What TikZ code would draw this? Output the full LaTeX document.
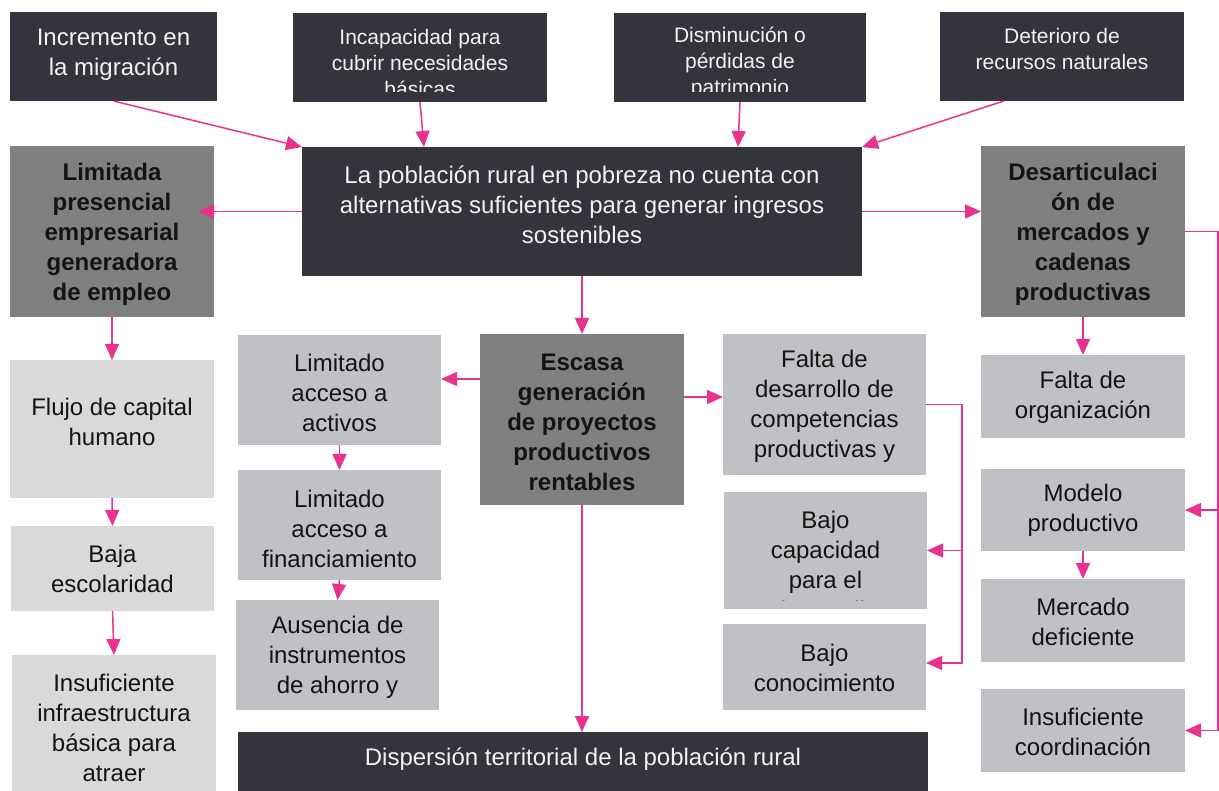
\documentclass[tikz,border=0pt]{standalone}
\usepackage{fontspec}
\setmainfont{Liberation Sans}
\usetikzlibrary{arrows.meta,calc}
\definecolor{dk}{RGB}{52,52,60}
\definecolor{mg}{RGB}{128,128,128}
\definecolor{lg}{RGB}{192,193,197}
\definecolor{xg}{RGB}{217,217,217}
\definecolor{pk}{RGB}{232,50,140}
\definecolor{wtx}{RGB}{242,242,242}
\definecolor{btx}{RGB}{20,20,20}
\newcommand{\bx}[9]{%
  \node[bxs,#2,minimum width={#6-#4},minimum height={#7-#5}] (#1) at ({(#4+#6)/2},{(#5+#7)/2}) {};
  \node[#3] (#1-t) at ({(#4+#6)/2},#8) {#9};
}
\tikzset{
  bxs/.style={rectangle,draw=none,inner sep=0pt,outer sep=0pt},
  txt/.style={align=center,inner sep=0pt,yshift=-2.5pt,font=\fontsize{24}{30}\selectfont},
  wt/.style={txt,text=wtx},
  wts/.style={align=center,inner sep=0pt,text=wtx,font=\fontsize{21}{26}\selectfont},
  bt/.style={txt,text=btx},
  bbt/.style={txt,text=btx,font=\fontsize{24}{30}\selectfont\bfseries},
  arr/.style={draw=pk,line width=1.5pt,-{Triangle[length=16pt,width=14pt]}},
  ln/.style={draw=pk,line width=1.5pt}
}
\begin{document}
\begin{tikzpicture}[x=1pt,y=-1pt]
\useasboundingbox[fill=white] (0,0) rectangle (1219,791);
% top row
\bx{inc}{fill=dk}{wt}{10}{12}{217}{101}{52}{Incremento en\\la migración}
\node[bxs,fill=dk,minimum width=254,minimum height=89] (incap) at (420,57.5) {};
\begin{scope}
\clip (293,13) rectangle (547,92);
\node[wts] (incap-t) at (420,63) {Incapacidad para\\cubrir necesidades\\básicas};
\end{scope}
\node[bxs,fill=dk,minimum width=252,minimum height=89] (dism) at (740,57.5) {};
\begin{scope}
\clip (614,13) rectangle (866,92);
\node[wts] (dism-t) at (740,63) {Disminución o\\pérdidas de\\patrimonio};
\end{scope}
\bx{det}{fill=dk}{wts}{940}{12}{1184}{101}{49}{Deterioro de\\recursos naturales}
% central
\bx{cen}{fill=dk}{wt}{302}{147}{862}{276}{202}{La población rural en pobreza no cuenta con\\alternativas suficientes para generar ingresos\\sostenibles}
\bx{lim}{fill=mg}{bbt}{10}{146}{214}{317}{232}{Limitada\\presencial\\empresarial\\generadora\\de empleo}
\bx{des}{fill=mg}{bbt}{981}{146}{1185}{317}{232}{Desarticulaci\\ón de\\mercados y\\cadenas\\productivas}
\bx{esc}{fill=mg}{bbt}{480}{334}{684}{505}{419.5}{Escasa\\generación\\de proyectos\\productivos\\rentables}
% middle-left column
\bx{act}{fill=lg}{bt}{238}{335}{441}{445}{390}{Limitado\\acceso a\\activos}
\bx{fin}{fill=lg}{bt}{238}{470}{441}{580}{526}{Limitado\\acceso a\\financiamiento}
\bx{aus}{fill=lg}{bt}{236}{600}{439}{710}{655}{Ausencia de\\instrumentos\\de ahorro y}
% middle-right column
\bx{fd}{fill=lg}{bt}{723}{334}{926}{475}{404}{Falta de\\desarrollo de\\competencias\\productivas y}
\node[bxs,fill=lg,minimum width=203,minimum height=117] (bcap) at (825.5,550.5) {};
\begin{scope}
\clip (724,492) rectangle (927,600);
\node[bt] (bcap-t) at (825.5,562.5) {Bajo\\capacidad\\para el\\desarrollo};
\end{scope}
\bx{bkn}{fill=lg}{bt}{723}{624}{926}{710}{665}{Bajo\\conocimiento}
% right column
\bx{org}{fill=lg}{bt}{981}{355}{1185}{438}{395}{Falta de\\organización}
\bx{mod}{fill=lg}{bt}{981}{469}{1185}{551}{508}{Modelo\\productivo}
\bx{mer}{fill=lg}{bt}{981}{579}{1185}{662}{619}{Mercado\\deficiente}
\bx{coo}{fill=lg}{bt}{981}{689}{1185}{772}{729}{Insuficiente\\coordinación}
% left column
\bx{flu}{fill=xg}{bt}{10}{360}{214}{498}{419.5}{Flujo de capital\\humano}
\bx{baj}{fill=xg}{bt}{11}{526}{214}{611}{566}{Baja\\escolaridad}
\bx{inf}{fill=xg}{bt}{12}{655}{216}{791}{725.5}{Insuficiente\\infraestructura\\básica para\\atraer}
% bottom
\bx{disp}{fill=dk}{wt}{238}{732}{928}{791}{757}{Dispersión territorial de la población rural}
% connectors
\draw[arr] (inc.south) -- (cen.north west);
\draw[arr] (incap.south) -- ($(cen.north west)+(122,0)$);
\draw[arr] (dism.south) -- ($(cen.north west)+(436,0)$);
\draw[arr] ($(det.south west)+(64,0)$) -- (cen.north east);
\draw[arr] (cen.west) -- ($(cen.west -| lim.east)+(-16,0)$);
\draw[arr] (cen.east) -- (cen.east -| des.west);
\draw[arr] (cen.south) -- (esc.north);
\coordinate (eL) at ($(esc.north west)+(0,45)$);
\draw[arr] (eL) -- (eL -| act.east);
\coordinate (eR) at ($(esc.north east)+(0,63)$);
\draw[arr] (eR) -- (eR -| fd.west);
\draw[arr] (esc.south) -- (esc.south |- disp.north);
\draw[arr] (lim.south) -- (flu.north);
\draw[arr] (flu.south) -- (baj.north);
\draw[arr] (baj.south) -- (inf.north);
\draw[arr] (act.south) -- (fin.north);
\draw[arr] (fin.south) -- (aus.north);
\coordinate (v1) at ($(fd.east)+(36,0)$);
\draw[ln] (fd.east) -- (v1);
\draw[arr] (v1) |- ($(bkn.east)+(0,-4)$);
\draw[arr] (v1 |- bcap.east) -- (bcap.east);
\coordinate (v2) at ($(des.east)+(33,0)$);
\draw[ln] (des.east) -- (v2);
\draw[arr] (v2) |- (coo.east);
\draw[arr] (v2 |- mod.east) -- (mod.east);
\draw[arr] (des.south) -- (org.north);
\draw[arr] (mod.south) -- (mer.north);
\end{tikzpicture}
\end{document}
